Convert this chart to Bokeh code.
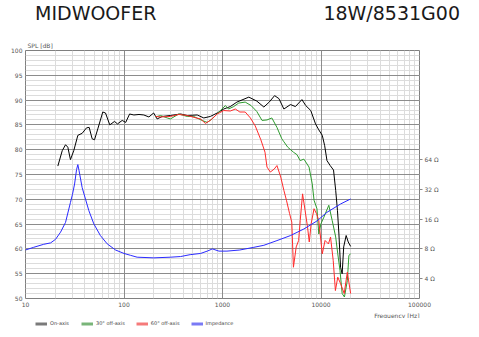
from bokeh.plotting import figure
from bokeh.models import (Range1d, LogScale, LogAxis, FixedTicker, PrintfTickFormatter,
                          Legend, LegendItem, Title, Grid, Div)
from bokeh.layouts import column
from bokeh.embed import file_html
from bokeh.resources import INLINE

# ---------------- data ----------------
on_f = [21.3, 23.6, 25.5, 26.9, 28.6, 30.9, 34.0, 37.6, 41.6, 44.3, 47.5, 50.2, 54.2, 60.9, 64.9,
        71.7, 80.1, 85.9, 95.9, 104, 114, 126, 142, 159, 179, 200, 217, 244, 296, 376, 438, 554,
        646, 752, 884, 1030, 1200, 1400, 1850, 2230, 2630, 2980, 3380, 3740, 4200, 4900, 5500,
        6400, 7000, 7870, 8800, 9500, 10300, 10900, 11500, 12400, 13400, 14100, 14700, 15200,
        15800, 16400, 17000, 18000, 18900, 20000]
on_db = [76.7, 79.8, 81.0, 80.5, 78.0, 79.8, 82.9, 83.3, 84.4, 84.5, 82.2, 82.0, 84.2, 87.6, 87.4,
         85.0, 85.7, 85.2, 85.9, 85.5, 87.2, 87.0, 87.1, 87.0, 86.6, 87.4, 86.2, 86.7, 86.9, 87.2,
         86.9, 87.0, 86.4, 86.7, 87.4, 88.2, 88.7, 89.6, 90.6, 89.8, 88.6, 89.6, 90.9, 90.3, 88.2,
         89.1, 88.7, 90.1, 88.9, 87.9, 85.2, 84.0, 82.9, 80.8, 77.8, 76.8, 75.9, 71.8, 67.7, 63.0,
         56.3, 55.0, 60.4, 62.7, 61.4, 60.5]

g30_f = [209, 235, 275, 296, 360, 438, 510, 620, 700, 785, 920, 1070, 1150, 1300, 1460, 1700,
         1950, 2230, 2520, 2830, 3170, 3570, 4000, 4200, 4600, 5250, 5700, 6150, 6700, 7560, 8150,
         8500, 9100, 9500, 10000, 10700, 12000, 13000, 14100, 14800, 15600, 16400, 17300, 18500,
         19200, 20000]
g30_db = [86.6, 86.9, 86.4, 86.2, 87.2, 86.7, 86.7, 85.9, 85.5, 86.2, 87.6, 88.9, 88.2, 88.7, 89.4,
          89.6, 88.9, 87.7, 85.9, 86.0, 86.4, 84.5, 82.2, 81.6, 80.5, 79.5, 79.0, 77.8, 78.1, 76.5,
          73.1, 69.8, 68.1, 63.0, 65.1, 66.4, 68.8, 65.7, 62.4, 59.0, 55.6, 51.0, 50.3, 53.6, 58.7,
          59.0]

g60_f = [209, 235, 296, 360, 438, 540, 600, 670, 750, 884, 1030, 1200, 1350, 1500, 1700, 1920,
         2150, 2450, 2700, 2830, 3060, 3350, 3570, 3900, 4200, 4460, 4800, 5050, 5250, 5600, 5930,
         6150, 6500, 6900, 7300, 7600, 7950, 8500, 9000, 9500, 10300, 11000, 11900, 12500, 13300,
         14000, 14800, 15800, 17200, 18500, 20000]
g60_db = [86.7, 86.6, 86.7, 87.1, 86.9, 86.4, 86.2, 85.3, 85.9, 87.2, 87.9, 87.8, 88.2, 87.6, 87.6,
          86.4, 84.8, 82.0, 79.5, 76.5, 75.5, 76.1, 76.8, 74.5, 71.8, 69.8, 67.1, 65.4, 56.3, 60.4,
          61.7, 65.7, 71.1, 67.7, 64.4, 61.4, 65.1, 68.1, 67.1, 65.7, 59.0, 61.7, 61.0, 62.4, 57.7,
          51.6, 54.3, 53.0, 51.0, 55.3, 51.0]

imp_f = [10, 12.1, 15.3, 18, 20.2, 22.7, 25.5, 28.6, 30, 31.5, 33, 34, 35, 37.6, 44, 49.4, 57.6,
         67.5, 82, 100, 116, 136, 200, 296, 376, 470, 600, 700, 790, 920, 1110, 1500, 2080, 2630,
         3570, 4900, 6700, 9100, 11500, 15800, 20000]
imp_ohm = [7.8, 8.3, 8.9, 9.2, 10.0, 11.8, 14.8, 23.5, 28.4, 36.1, 50.5, 56.6, 49.0, 33.2, 19.4,
           14.3, 10.9, 9.0, 7.8, 7.2, 6.9, 6.6, 6.5, 6.6, 6.7, 7.0, 7.2, 7.6, 8.0, 7.6, 7.6, 7.8,
           8.3, 8.7, 9.7, 10.9, 12.7, 15.3, 18.7, 22.7, 25.5]

freq_ticks = [10, 100, 1000, 10000, 100000]
spl_ticks = [50, 55, 60, 65, 70, 75, 80, 85, 90, 95, 100]
imp_ticks = [4, 8, 16, 32, 64]
legend_names = ["On-axis", "30° off-axis", "60° off-axis", "Impedance"]
title_left = "MIDWOOFER"
title_right = "18W/8531G00"
y_label = "SPL [dB]"
x_label = "Frequency [Hz]"

FONT = "DejaVu Sans"

# ---------------- header ----------------
head = Div(
    text=(f'<div style="box-sizing:border-box;display:flex;justify-content:space-between;'
          f'width:460px;padding-left:35px;padding-top:2px;font-family:\'{FONT}\';'
          f'font-size:19px;line-height:22px;color:#1a1a1a;">'
          f'<span>{title_left}</span><span>{title_right}</span></div>'),
    width=479, height=30, margin=(0, 0, 0, 0))

# ---------------- main figure ----------------
p = figure(width=479, height=288, x_axis_type="log", x_range=(10, 100000), y_range=(50, 100),
           output_backend="svg", toolbar_location=None, title=None,
           min_border_left=25, min_border_right=60, min_border_top=20, min_border_bottom=20)
p.background_fill_color = "white"
p.border_fill_color = "white"
p.outline_line_color = "#808080"
p.outline_line_width = 1

minor_f = [m * d for d in [10, 100, 1000, 10000] for m in range(2, 10)]
xticker = FixedTicker(ticks=freq_ticks, minor_ticks=minor_f)
yticker = FixedTicker(ticks=spl_ticks, minor_ticks=list(range(50, 101)))
p.xaxis.ticker = xticker
p.xaxis.formatter = PrintfTickFormatter(format="%d")
p.yaxis.ticker = yticker

for ax in (p.xaxis[0], p.yaxis[0]):
    ax.axis_line_color = None
    ax.major_tick_line_color = None
    ax.minor_tick_line_color = None
    ax.major_tick_out = 0
    ax.minor_tick_out = 0
    ax.major_tick_in = 0
    ax.minor_tick_in = 0
    ax.major_label_text_font = FONT
    ax.major_label_text_font_size = "6px"
    ax.major_label_text_color = "#555555"
    ax.major_label_standoff = 3

# minor grids first, then major grids on top
p.xgrid.grid_line_color = None
p.ygrid.grid_line_color = None
p.xgrid.minor_grid_line_color = "#dcdcdc"
p.ygrid.minor_grid_line_color = "#dcdcdc"
p.add_layout(Grid(dimension=0, ticker=xticker, grid_line_color="#8c8c8c", grid_line_width=1))
p.add_layout(Grid(dimension=1, ticker=yticker, grid_line_color="#8c8c8c", grid_line_width=1))

# impedance axis (log, right)
p.extra_y_ranges = {"imp": Range1d(start=8 * 10 ** (-0.5), end=8 * 10 ** 2)}
p.extra_y_scales = {"imp": LogScale()}
rax = LogAxis(y_range_name="imp", ticker=FixedTicker(ticks=imp_ticks, minor_ticks=[]))
rax.major_label_overrides = {t: f"{t} Ω" for t in imp_ticks}
rax.axis_line_color = None
rax.major_tick_line_color = "#888888"
rax.major_tick_out = 3
rax.major_tick_in = 0
rax.minor_tick_line_color = None
rax.minor_tick_out = 0
rax.major_label_text_font = FONT
rax.major_label_text_font_size = "6px"
rax.major_label_text_color = "#555555"
rax.major_label_standoff = 2
p.add_layout(rax, "right")

line_cols = ["#000000", "#2e9b2e", "#ff2b2b", "#2a2aff"]
p.line(on_f, on_db, line_color=line_cols[0], line_width=1)
p.line(g30_f, g30_db, line_color=line_cols[1], line_width=1)
p.line(g60_f, g60_db, line_color=line_cols[2], line_width=1)
p.line(imp_f, imp_ohm, line_color=line_cols[3], line_width=1, y_range_name="imp")

p.add_layout(Title(text=y_label, align="left", offset=2, standoff=4, text_font=FONT,
                   text_font_size="6px", text_font_style="normal", text_color="#555555"),
             "above")
p.add_layout(Title(text=x_label, align="right", offset=0, standoff=0, text_font=FONT,
                   text_font_size="6px", text_font_style="normal", text_color="#555555"),
             "below")

# ---------------- legend strip ----------------
leg = figure(width=479, height=19, x_range=(0, 1), y_range=(0, 1),
             x_axis_location=None, y_axis_location=None, output_backend="svg",
             toolbar_location=None, title=None, min_border=0)
leg.grid.visible = False
leg.outline_line_color = None
leg.background_fill_color = "white"
leg.border_fill_color = "white"
# same series, outside this strip's view: only their legend samples show
leg_cols = ["#7a7a7a", "#79b579", "#f57a7a", "#7a7af5"]
leg_rs = [leg.line(fx, fy, line_color=c, line_width=3)
          for fx, fy, c in zip([on_f, g30_f, g60_f, imp_f], [on_db, g30_db, g60_db, imp_ohm],
                               leg_cols)]
legend = Legend(items=[LegendItem(label=n, renderers=[r]) for n, r in zip(legend_names, leg_rs)],
                orientation="horizontal", location=(10, 11),
                label_text_font=FONT, label_text_font_size="5px", label_text_color="#444444",
                glyph_width=12, glyph_height=5, label_height=5, label_standoff=3, spacing=11,
                padding=0, margin=0, border_line_color=None, background_fill_alpha=0)
leg.add_layout(legend, "center")

layout = column(head, p, leg, spacing=0)
open("out.html", "w").write(file_html(layout, INLINE))
